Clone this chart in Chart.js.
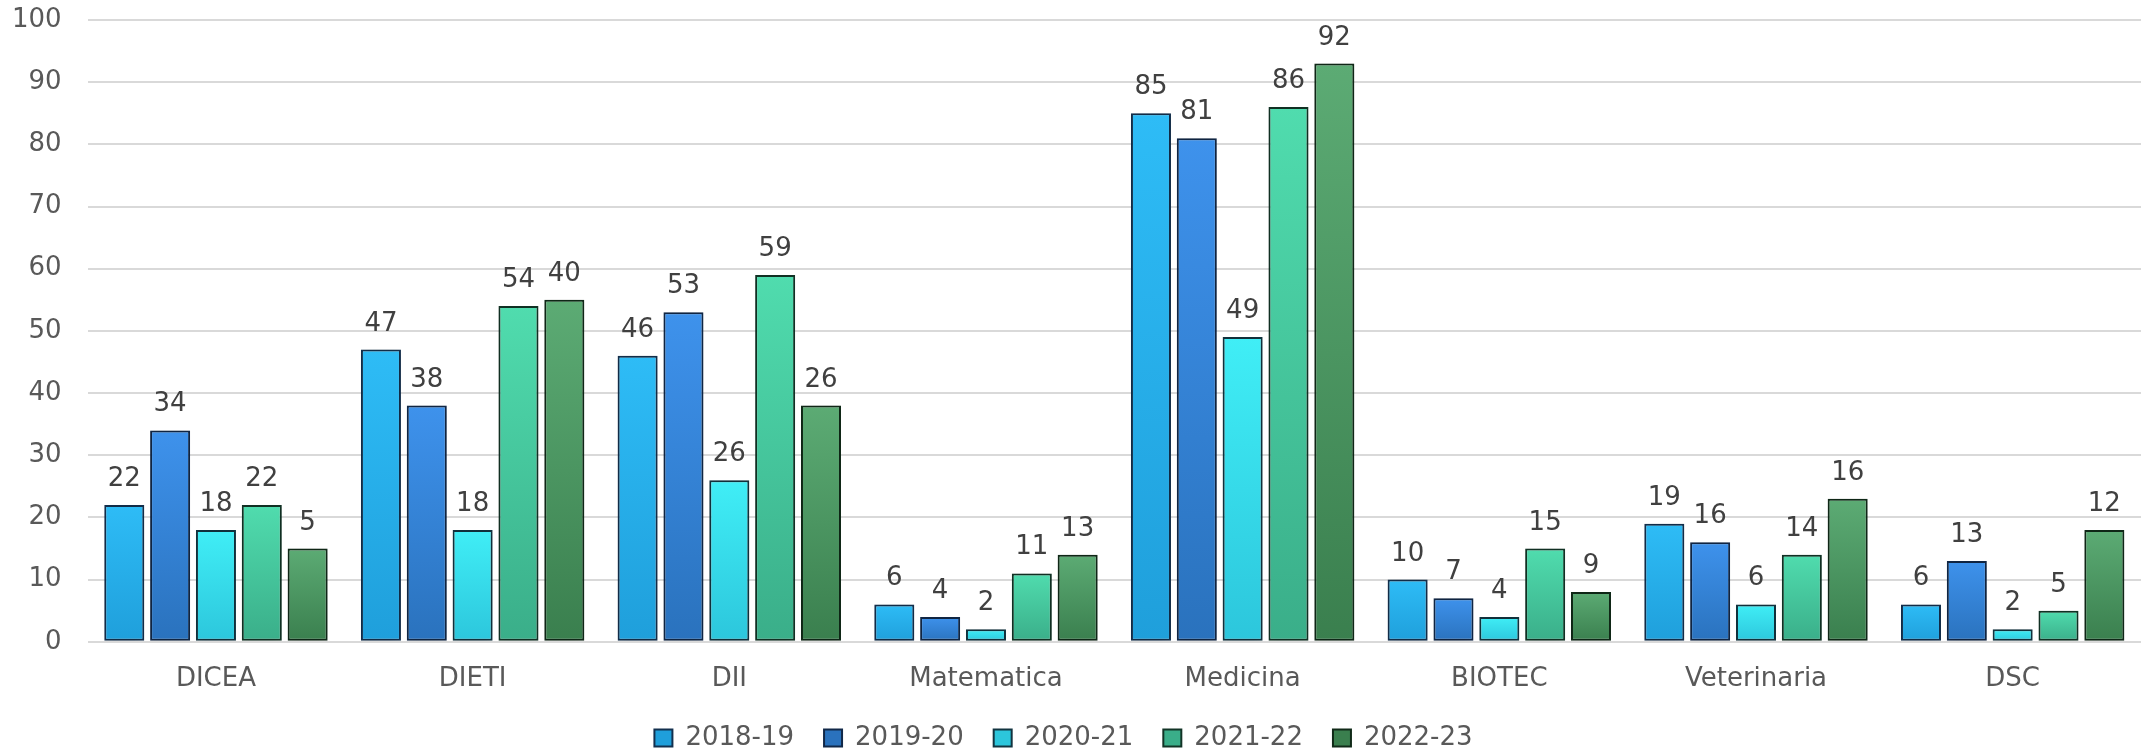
<!DOCTYPE html>
<html>
<head>
<meta charset="utf-8">
<script src="https://cdn.jsdelivr.net/npm/chart.js@4.4.1/dist/chart.umd.min.js"></script>
<style>
  html, body { margin: 0; padding: 0; background: #fff; }
  #wrap { width: 2141px; height: 752px; }
</style>
</head>
<body>
<div id="wrap"><canvas id="chart"></canvas></div>
<script>
// categories and series
const categories = ['DICEA', 'DIETI', 'DII', 'Matematica', 'Medicina', 'BIOTEC', 'Veterinaria', 'DSC'];
const years = ['2018-19', '2019-20', '2020-21', '2021-22', '2022-23'];

const v2018 = [22, 47, 46, 6, 85, 10, 19, 6];
const v2019 = [34, 38, 53, 4, 81, 7, 16, 13];
const v2020 = [18, 18, 26, 2, 49, 4, 6, 2];
const v2021 = [22, 54, 59, 11, 86, 15, 14, 5];
const v2022 = [15, 55, 38, 14, 93, 8, 23, 18];

// printed labels (last series shows different numbers than its bar height)
const lbl2022 = [5, 40, 26, 13, 92, 9, 16, 12];

const yMax = 100;
const yStep = 10;

// top / bottom colours of each bar gradient, border colour
const palette = [
    ['#2ebcf6', '#1f9fdb', '#13304e'],
    ['#3e92ec', '#2a72bd', '#112848'],
    ['#40eef6', '#2cc6dc', '#123440'],
    ['#50dcae', '#3aae89', '#123426'],
    ['#5cab74', '#3a7f4e', '#102a18']
];

function gradientFor(i) {
    return function(context) {
        const chart = context.chart;
        const area = chart.chartArea;
        const y = chart.scales.y;
        if (!area || !y || context.raw === undefined) return palette[i][0];
        const top = y.getPixelForValue(context.raw);
        const base = y.getPixelForValue(0);
        if (!isFinite(top) || base - top < 1) return palette[i][1];
        const g = chart.ctx.createLinearGradient(0, top, 0, base);
        g.addColorStop(0, palette[i][0]);
        g.addColorStop(1, palette[i][1]);
        return g;
    };
}

const seriesValues = [v2018, v2019, v2020, v2021, v2022];
const seriesLabels = [v2018, v2019, v2020, v2021, lbl2022];

const datasets = years.map((y, i) => ({
    label: y,
    data: seriesValues[i],
    printed: seriesLabels[i],
    backgroundColor: gradientFor(i),
    borderColor: palette[i][2],
    borderWidth: 2,
    borderSkipped: false,
    categoryPercentage: 0.893,
    barPercentage: 0.873
}));

const fontFamily = '"DejaVu Sans", sans-serif';

const shadowPlugin = {
    id: 'barShadow',
    beforeDatasetsDraw(chart) {
        const ctx = chart.ctx;
        ctx.save();
        ctx.shadowColor = 'rgba(0, 0, 0, 0.22)';
        ctx.shadowBlur = 10;
        ctx.shadowOffsetX = 0;
        ctx.shadowOffsetY = 0;
    },
    afterDatasetsDraw(chart) {
        chart.ctx.restore();
    }
};

const valueLabels = {
    id: 'valueLabels',
    afterDraw(chart) {
        const ctx = chart.ctx;
        ctx.save();
        ctx.font = '26px ' + fontFamily;
        ctx.fillStyle = '#404040';
        ctx.textAlign = 'center';
        ctx.textBaseline = 'alphabetic';
        chart.data.datasets.forEach((ds, i) => {
            const meta = chart.getDatasetMeta(i);
            meta.data.forEach((bar, j) => {
                ctx.fillText(String(ds.printed[j]), bar.x, bar.y - 19);
            });
        });
        ctx.restore();
    }
};

Chart.defaults.font.family = fontFamily;

new Chart(document.getElementById('chart'), {
    type: 'bar',
    data: { labels: categories, datasets: datasets },
    options: {
        responsive: true,
        maintainAspectRatio: false,
        animation: false,
        layout: { padding: { left: -14, right: 0, top: 0, bottom: -9 } },
        scales: {
            x: {
                grid: { display: false, drawTicks: false },
                border: { display: false },
                ticks: { color: '#595959', font: { size: 26 }, padding: 22 },
                // label padding is counted twice by Chart.js, drop the lower half
                afterFit(scale) { scale.height -= 22; }
            },
            y: {
                min: 0,
                max: yMax,
                ticks: { stepSize: yStep, color: '#595959', font: { size: 26 }, padding: 26 },
                grid: { color: '#d9d9d9', lineWidth: 2, drawTicks: false },
                border: { display: false },
                afterFit(scale) { scale.paddingTop = 20; }
            }
        },
        plugins: {
            legend: {
                position: 'bottom',
                labels: {
                    color: '#595959',
                    font: { size: 26 },
                    boxWidth: 18,
                    boxHeight: 17,
                    padding: 30
                }
            },
            tooltip: { enabled: false }
        }
    },
    plugins: [shadowPlugin, valueLabels]
});
</script>
</body>
</html>
